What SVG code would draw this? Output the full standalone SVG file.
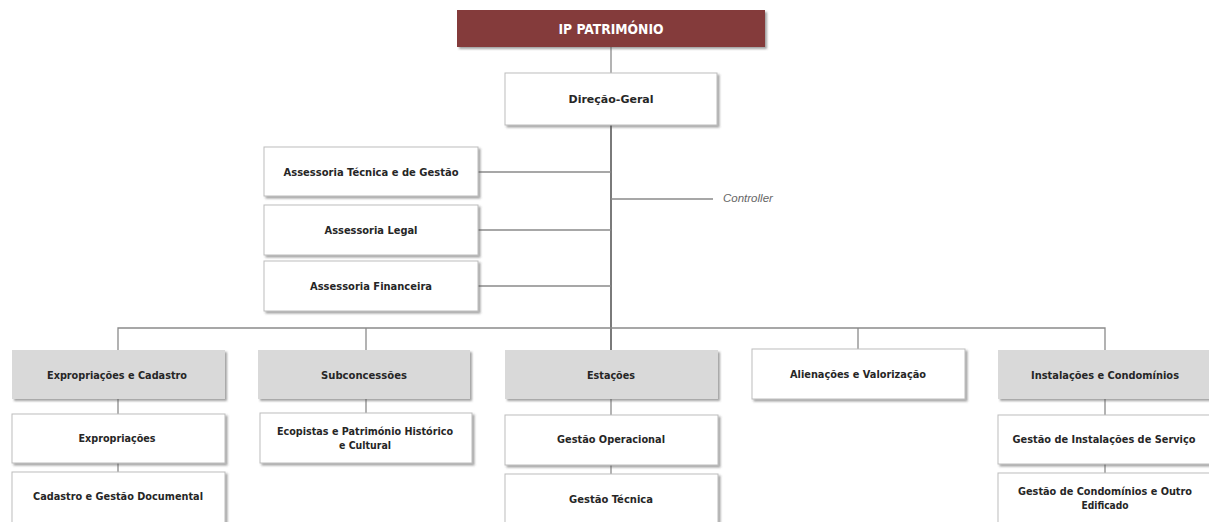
<svg xmlns="http://www.w3.org/2000/svg" width="1209" height="522" viewBox="0 0 1209 522">
<defs>
<filter id="sh" x="-10%" y="-20%" width="130%" height="160%">
<feDropShadow dx="2" dy="2" stdDeviation="1.3" flood-color="#555" flood-opacity="0.55"/>
</filter>
<style>
.w{fill:#fff;stroke:#bdbdbd;stroke-width:1;filter:url(#sh)}
.g{fill:#d9d9d9;stroke:none;filter:url(#sh)}
.r{fill:#843b3b;stroke:none;filter:url(#sh)}
.t{font-family:"DejaVu Sans Condensed","DejaVu Sans",sans-serif;font-weight:bold;font-size:11px;fill:#262626;text-anchor:middle;dominant-baseline:central}
.tw{font-family:"DejaVu Sans Condensed","DejaVu Sans",sans-serif;font-weight:bold;font-size:14px;fill:#fff;text-anchor:middle;dominant-baseline:central}
.c{stroke:#8a8a8a;stroke-width:1.3;fill:none}
.ct{stroke:#7a7a7a;stroke-width:2;fill:none}
.it{font-family:"Liberation Sans",Arial,sans-serif;font-style:italic;font-size:11.5px;fill:#666}
</style>
</defs>
<rect width="1209" height="522" fill="#fff"/>
<g id="connectors">
<line class="c" x1="611" y1="47" x2="611" y2="73"/>
<line class="ct" x1="611" y1="125" x2="611" y2="350"/>
<line class="c" x1="478" y1="172" x2="611" y2="172"/>
<line class="c" x1="478" y1="230" x2="611" y2="230"/>
<line class="c" x1="478" y1="286" x2="611" y2="286"/>
<line class="c" x1="611" y1="199" x2="713" y2="199"/>
<polyline class="c" points="118,350 118,328 1105,328 1105,350"/>
<line class="c" x1="366" y1="328" x2="366" y2="350"/>
<line class="c" x1="858" y1="328" x2="858" y2="349"/>
<line class="c" x1="118" y1="399" x2="118" y2="414"/>
<line class="c" x1="118" y1="463" x2="118" y2="472"/>
<line class="c" x1="366" y1="399" x2="366" y2="413"/>
<line class="c" x1="611" y1="399" x2="611" y2="415"/>
<line class="c" x1="611" y1="465" x2="611" y2="474"/>
<line class="c" x1="1105" y1="399" x2="1105" y2="415"/>
<line class="c" x1="1105" y1="464" x2="1105" y2="473"/>
</g>
<text class="it" x="723" y="202">Controller</text>
<g id="ip"><rect class="r" x="457" y="10" width="308" height="37"/><text class="tw" x="611" y="29" textLength="105" lengthAdjust="spacingAndGlyphs">IP PATRIMÓNIO</text></g>
<g id="dg"><rect class="w" x="505" y="73" width="212" height="52"/><text class="t" x="611" y="99" textLength="85" lengthAdjust="spacingAndGlyphs">Direção-Geral</text></g>
<g id="atg"><rect class="w" x="264" y="147" width="214" height="49"/><text class="t" x="371" y="172" textLength="175" lengthAdjust="spacingAndGlyphs">Assessoria Técnica e de Gestão</text></g>
<g id="al"><rect class="w" x="264" y="205" width="214" height="50"/><text class="t" x="371" y="230" textLength="93" lengthAdjust="spacingAndGlyphs">Assessoria Legal</text></g>
<g id="af"><rect class="w" x="264" y="261" width="214" height="50"/><text class="t" x="371" y="286" textLength="122" lengthAdjust="spacingAndGlyphs">Assessoria Financeira</text></g>
<g id="ec"><rect class="g" x="12" y="350" width="213" height="49"/><text class="t" x="117" y="375" textLength="140" lengthAdjust="spacingAndGlyphs">Expropriações e Cadastro</text></g>
<g id="ex"><rect class="w" x="12" y="414" width="213" height="49"/><text class="t" x="117" y="438" textLength="77" lengthAdjust="spacingAndGlyphs">Expropriações</text></g>
<g id="cgd"><rect class="w" x="12" y="472" width="213" height="56"/><text class="t" x="118" y="496" textLength="170" lengthAdjust="spacingAndGlyphs">Cadastro e Gestão Documental</text></g>
<g id="sub"><rect class="g" x="258" y="350" width="212" height="49"/><text class="t" x="364" y="375" textLength="86" lengthAdjust="spacingAndGlyphs">Subconcessões</text></g>
<g id="eco"><rect class="w" x="260" y="413" width="212" height="50"/><text class="t" x="365" y="431" textLength="176" lengthAdjust="spacingAndGlyphs">Ecopistas e Património Histórico</text><text class="t" x="365" y="445" textLength="52" lengthAdjust="spacingAndGlyphs">e Cultural</text></g>
<g id="est"><rect class="g" x="505" y="350" width="213" height="49"/><text class="t" x="611" y="375" textLength="48" lengthAdjust="spacingAndGlyphs">Estações</text></g>
<g id="go"><rect class="w" x="505" y="415" width="213" height="50"/><text class="t" x="611" y="439" textLength="108" lengthAdjust="spacingAndGlyphs">Gestão Operacional</text></g>
<g id="gt"><rect class="w" x="505" y="474" width="213" height="54"/><text class="t" x="611" y="499" textLength="84" lengthAdjust="spacingAndGlyphs">Gestão Técnica</text></g>
<g id="av"><rect class="w" x="752" y="349" width="213" height="50"/><text class="t" x="858" y="374" textLength="136" lengthAdjust="spacingAndGlyphs">Alienações e Valorização</text></g>
<g id="ic"><rect class="g" x="998" y="350" width="213" height="49"/><text class="t" x="1105" y="375" textLength="148" lengthAdjust="spacingAndGlyphs">Instalações e Condomínios</text></g>
<g id="gis"><rect class="w" x="998" y="415" width="213" height="49"/><text class="t" x="1104" y="439" textLength="183" lengthAdjust="spacingAndGlyphs">Gestão de Instalações de Serviço</text></g>
<g id="gco"><rect class="w" x="998" y="473" width="213" height="55"/><text class="t" x="1105" y="491" textLength="174" lengthAdjust="spacingAndGlyphs">Gestão de Condomínios e Outro</text><text class="t" x="1105" y="505" textLength="47" lengthAdjust="spacingAndGlyphs">Edificado</text></g>
</svg>
